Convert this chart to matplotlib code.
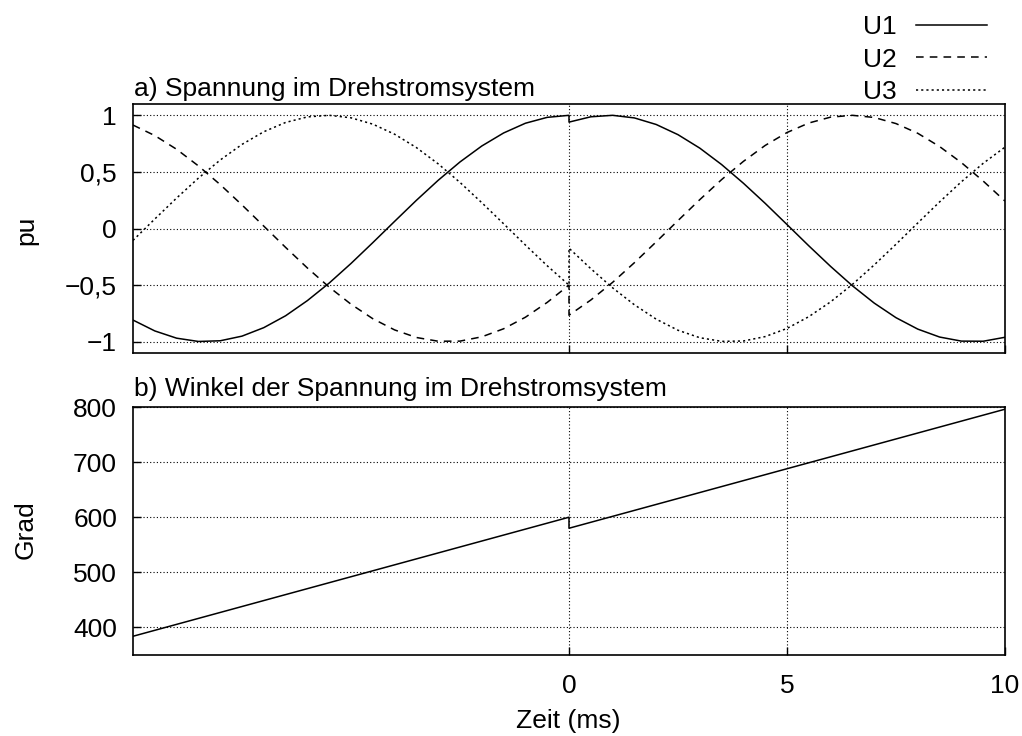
import matplotlib
matplotlib.use("Agg")
import matplotlib.pyplot as plt

plt.rcParams["font.family"] = ["Liberation Sans", "DejaVu Sans"]
plt.rcParams["font.size"] = 19
plt.rcParams["axes.unicode_minus"] = True

# --- Data (time in ms, the jump at t = 0 appears twice) ---
t = [-10.0, -9.5, -9.0, -8.5, -8.0, -7.5, -7.0, -6.5, -6.0, -5.5, -5.0,
     -4.5, -4.0, -3.5, -3.0, -2.5, -2.0, -1.5, -1.0, -0.5, 0.0,
     0.0, 0.5, 1.0, 1.5, 2.0, 2.5, 3.0, 3.5, 4.0, 4.5, 5.0,
     5.5, 6.0, 6.5, 7.0, 7.5, 8.0, 8.5, 9.0, 9.5, 10.0]

u1 = [-0.809, -0.905, -0.969, -0.998, -0.992, -0.951, -0.876, -0.771, -0.637, -0.482, -0.309,
      -0.125, 0.063, 0.249, 0.426, 0.588, 0.729, 0.844, 0.930, 0.982, 1.000,
      0.940, 0.987, 1.000, 0.977, 0.919, 0.829, 0.710, 0.565, 0.400, 0.222, 0.035,
      -0.153, -0.335, -0.506, -0.659, -0.788, -0.889, -0.959, -0.995, -0.996, -0.961]

u2 = [0.914, 0.821, 0.700, 0.553, 0.388, 0.208, 0.021, -0.167, -0.349, -0.518, -0.669,
      -0.797, -0.896, -0.963, -0.996, -0.995, -0.957, -0.886, -0.784, -0.653, -0.500,
      -0.766, -0.632, -0.476, -0.302, -0.118, 0.070, 0.255, 0.432, 0.593, 0.734, 0.848,
      0.932, 0.984, 1.000, 0.981, 0.927, 0.841, 0.724, 0.582, 0.419, 0.242]

u3 = [-0.105, 0.084, 0.269, 0.445, 0.605, 0.743, 0.855, 0.937, 0.986, 1.000, 0.978,
      0.922, 0.833, 0.715, 0.571, 0.407, 0.228, 0.042, -0.146, -0.329, -0.500,
      -0.174, -0.355, -0.524, -0.674, -0.801, -0.899, -0.965, -0.997, -0.994, -0.955, -0.883,
      -0.779, -0.648, -0.494, -0.322, -0.139, 0.049, 0.235, 0.413, 0.576, 0.719]

# angle of the voltage (degrees), a straight line on each side of the jump
t_angle = [-10.0, 0.0, 0.0, 10.0]
angle = [384, 600, 580, 796]

pu_ticks = [-1, -0.5, 0, 0.5, 1]
pu_labels = ["\u22121", "\u22120,5", "0", "0,5", "1"]
grad_ticks = [400, 500, 600, 700, 800]
x_ticks = [0, 5, 10]

W, H = 1022, 736
fig = plt.figure(figsize=(W / 100, H / 100), dpi=100)

ax1 = fig.add_axes([133 / W, 1 - 353 / H, 872 / W, 249 / H])
ax2 = fig.add_axes([133 / W, 1 - 655 / H, 872 / W, 248 / H])

lw = 1.1
l1, = ax1.plot(t, u1, color="black", lw=lw, linestyle="-", label="U1")
l2, = ax1.plot(t, u2, color="black", lw=lw, linestyle=(0, (5, 4)), label="U2")
l3, = ax1.plot(t, u3, color="black", lw=lw, linestyle=(0, (1.4, 2.0)), label="U3")
ax2.plot(t_angle, angle, color="black", lw=lw)

ax1.set_ylim(-1.1, 1.1)
ax1.set_yticks(pu_ticks)
ax1.set_yticklabels(pu_labels)
ax2.set_ylim(350, 800)
ax2.set_yticks(grad_ticks)

for ax in (ax1, ax2):
    ax.set_xlim(-10, 10)
    ax.set_xticks(x_ticks)
    ax.grid(True, color="black", linestyle=(0, (1, 2)), linewidth=0.8)
    ax.tick_params(direction="in", length=6, width=1)
    ax.tick_params(axis="x", pad=14)
    ax.tick_params(axis="y", pad=11.5)
    for s in ax.spines.values():
        s.set_linewidth(1.2)
ax1.tick_params(axis="x", labelbottom=False)

fig.text(134 / W, 1 - 96 / H, "a) Spannung im Drehstromsystem", ha="left", va="baseline")
fig.text(134 / W, 1 - 396 / H, "b) Winkel der Spannung im Drehstromsystem", ha="left", va="baseline")
fig.text(26 / W, 1 - 230 / H, "pu", rotation=90, ha="center", va="center")
fig.text(26 / W, 1 - 530 / H, "Grad", rotation=90, ha="center", va="center")
fig.text(568 / W, 1 - 721 / H, "Zeit (ms)", ha="center", va="center")

fig.legend(handles=[l1, l2, l3], loc="upper right", bbox_to_anchor=(987 / W, 1 - 15 / H),
           frameon=False, markerfirst=False, borderpad=0, borderaxespad=0,
           handlelength=2.7, handletextpad=0.72, labelspacing=0.33)

fig.savefig("out.png", dpi=100)
